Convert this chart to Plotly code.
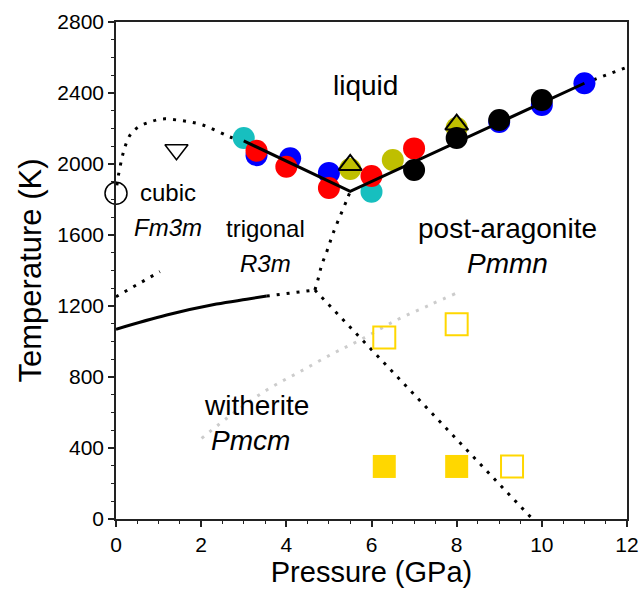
import plotly.graph_objects as go

# ---------------- data ----------------
blue_P = [3.3, 4.09, 5.0, 9.0, 10.0, 11.0]
blue_T = [2050, 2032, 1950, 2237, 2332, 2455]
red_P = [3.3, 4.0, 5.0, 6.0, 7.0]
red_T = [2075, 1985, 1865, 1932, 2088]
cyan_P = [6.0, 3.0]
cyan_T = [1844, 2146]
olive_P = [5.5, 6.5, 8.0]
olive_T = [1972, 2023, 2203]
black_P = [7.0, 8.0, 9.0, 10.0]
black_T = [1966, 2146, 2248, 2361]
tri_up_P = [5.5, 8.0]
tri_up_T = [1995, 2222]
tri_dn_P = [1.42]
tri_dn_T = [2080]
circ_open_P = [0.0]
circ_open_T = [1835]
sq_fill_P = [6.3, 8.0]
sq_fill_T = [296, 296]
sq_open_P = [6.3, 8.0, 9.3]
sq_open_T = [1022, 1097, 296]

melt_P = [3.0, 5.5, 11.0]
melt_T = [2130, 1846, 2455]
melt_ext_P = [11.0, 12.0]
melt_ext_T = [2455, 2545]
cubic_P = [0.02, 0.05, 0.13, 0.21, 0.33, 0.52, 0.80, 1.10, 1.43, 1.74, 2.04, 2.37, 2.68, 2.9]
cubic_T = [1880, 1927, 2023, 2096, 2163, 2208, 2237, 2254, 2248, 2237, 2220, 2186, 2152, 2135]
wt_solid_P = [0.0, 1.19, 2.36, 3.07, 3.54]
wt_solid_T = [1069, 1149, 1211, 1238, 1256]
wt_dot_P = [3.54, 4.67]
wt_dot_T = [1256, 1290]
tv_P = [4.67, 4.74, 4.83, 4.95, 5.10, 5.42, 5.5]
tv_T = [1290, 1346, 1431, 1506, 1611, 1797, 1846]
wp_P = [4.67, 9.78]
wp_T = [1290, 0]
short_P = [0.0, 1.03]
short_T = [1252, 1394]
gray_P = [2.01, 2.75, 3.54, 4.32, 5.10, 5.73, 6.59, 7.37, 7.98]
gray_T = [454, 595, 727, 830, 933, 1008, 1121, 1206, 1271]

labels = [
    ("liquid", 5.85, 2445, 28, False),
    ("cubic", 1.22, 1842, 24, False),
    ("Fm3m", 1.22, 1645, 24, True),
    ("trigonal", 3.5, 1639, 24, False),
    ("R3m", 3.5, 1442, 24, True),
    ("post-aragonite", 9.2, 1639, 28, False),
    ("Pmmn", 9.2, 1442, 28, True),
    ("witherite", 3.3, 642, 28, False),
    ("Pmcm", 3.15, 445, 28, True),
]

FONT = "Liberation Sans, Arial, sans-serif"
DOT = "3px,7px"
fig = go.Figure()

def line(P, T, dash=None, color="black", width=3, shape="linear"):
    fig.add_trace(go.Scatter(x=P, y=T, mode="lines",
                             line=dict(color=color, width=width, dash=dash, shape=shape),
                             hoverinfo="skip", showlegend=False))

# phase boundaries
line(gray_P, gray_T, dash=DOT, color="#cccccc", shape="spline")
line(cubic_P, cubic_T, dash=DOT, shape="spline")
line(short_P, short_T, dash=DOT)
line(wt_solid_P, wt_solid_T, shape="spline")
line(wt_dot_P, wt_dot_T, dash=DOT)
line(tv_P, tv_T, dash=DOT, shape="spline")
line(wp_P, wp_T, dash=DOT)
line(melt_ext_P, melt_ext_T, dash=DOT)

def pts(P, T, color, symbol="circle", size=22, lw=0, lc=None):
    fig.add_trace(go.Scatter(x=P, y=T, mode="markers", cliponaxis=False,
                             marker=dict(color=color, size=size, symbol=symbol,
                                         line=dict(width=lw, color=lc if lc else color)),
                             hoverinfo="skip", showlegend=False))

pts(blue_P, blue_T, "#0000ff")
pts(cyan_P, cyan_T, "#17bfbf")
pts(red_P, red_T, "#ff0000")
pts(olive_P, olive_T, "#bfbf00")
pts(black_P, black_T, "#000000")

line(melt_P, melt_T)

pts(tri_up_P, tri_up_T, "black", symbol="triangle-up-open", size=20, lw=2, lc="black")
pts(tri_dn_P, tri_dn_T, "black", symbol="triangle-down-open", size=20, lw=1.5, lc="black")
pts(circ_open_P, circ_open_T, "black", symbol="circle-open", size=22, lw=1.5, lc="black")
pts(sq_fill_P, sq_fill_T, "#ffd700", symbol="square", size=23)
pts(sq_open_P, sq_open_T, "#ffd700", symbol="square-open", size=22, lw=2, lc="#ffd700")

for txt, x, y, fs, it in labels:
    fig.add_annotation(x=x, y=y, text=f"<i>{txt}</i>" if it else txt, showarrow=False,
                       font=dict(family=FONT, size=fs, color="black"),
                       xanchor="center", yanchor="middle")

axis_common = dict(showline=True, linecolor="#222222", linewidth=1.5, mirror=True,
                   ticks="outside", ticklen=6, tickwidth=1.5, tickcolor="#222222",
                   showgrid=False, zeroline=False, automargin=False,
                   tickfont=dict(family=FONT, size=21, color="black"))

fig.update_xaxes(range=[0, 12], dtick=2, tick0=0,
                 minor=dict(dtick=0.5, ticks="outside", ticklen=3, tickwidth=1, tickcolor="#222222"),
                 title=dict(text="Pressure (GPa)", font=dict(family=FONT, size=29, color="black"),
                            standoff=2),
                 **axis_common)
fig.update_yaxes(range=[0, 2800], dtick=400, tick0=0,
                 minor=dict(dtick=100, ticks="outside", ticklen=3, tickwidth=1, tickcolor="#222222"),
                 title=dict(text="Temperature (K)", font=dict(family=FONT, size=31, color="black"),
                            standoff=6),
                 **axis_common)

fig.update_layout(width=642, height=589, margin=dict(l=116, r=15, t=22, b=70),
                  plot_bgcolor="white", paper_bgcolor="white",
                  font=dict(family=FONT))

fig.write_html("out.html", config={"displayModeBar": False},
               post_script="document.body.style.margin='0';document.body.style.overflow='hidden';")
